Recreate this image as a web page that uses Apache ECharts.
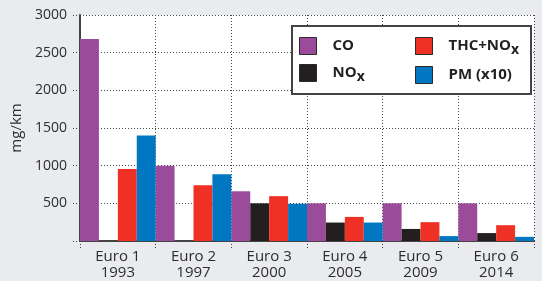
<!DOCTYPE html>
<html>
<head>
<meta charset="utf-8">
<script src="https://cdn.jsdelivr.net/npm/echarts@6/dist/echarts.min.js"></script>
<style>
  html, body { margin: 0; padding: 0; background: #e9ebee; }
  #main { width: 542px; height: 281px; }
</style>
</head>
<body>
<div id="main"></div>
<script>
// Euro emission standards, mg/km
var categories = ['Euro 1\n1993', 'Euro 2\n1997', 'Euro 3\n2000', 'Euro 4\n2005', 'Euro 5\n2009', 'Euro 6\n2014'];
var coValues = [2680, 1000, 660, 500, 500, 500];
var noxValues = [null, null, 500, 245, 160, 105];
var thcNoxValues = [955, 740, 595, 320, 250, 210];
var pmValues = [1400, 885, 495, 245, 65, 55];
var yTicks = [0, 500, 1000, 1500, 2000, 2500, 3000];

var myChart = echarts.init(document.getElementById('main'));

var font = 'Open Sans';

function legendName(name) {
    if (name === 'NOx') return '{a|NO}{s|x}';
    if (name === 'THC+NOx') return '{a|THC+NO}{s|x}';
    return '{a|' + name + '}';
}

var legendBase = {
    orient: 'vertical',
    top: 25,
    itemGap: 9,
    itemWidth: 17,
    itemHeight: 17,
    icon: 'rect',
    z: 5,
    itemStyle: { borderColor: '#2a2a2a', borderWidth: 1 },
    formatter: legendName,
    textStyle: {
        padding: [0, 0, 0, 11],
        rich: {
            a: { fontFamily: font, fontSize: 15, fontWeight: 'bold', color: '#231f20', lineHeight: 18 },
            s: { fontFamily: font, fontSize: 14, fontWeight: 'bold', color: '#231f20', padding: [8, 0, 0, 0] }
        }
    }
};

var option = {
    animation: false,
    textStyle: { fontFamily: font },
    grid: {
        left: 80,
        right: 8,
        top: 15,
        bottom: 39,
        show: true,
        backgroundColor: '#ffffff',
        borderWidth: 0
    },
    graphic: [{
        type: 'rect',
        left: 291,
        top: 25,
        z: 3,
        shape: { width: 239, height: 68 },
        style: { fill: '#ffffff', stroke: '#444444', lineWidth: 2 }
    }],
    legend: [
        Object.assign({}, legendBase, { left: 291, padding: [12, 8, 12, 8], data: ['CO', 'NOx'] }),
        Object.assign({}, legendBase, { left: 407, padding: [12, 8, 12, 8], data: ['THC+NOx', 'PM (x10)'] })
    ],
    xAxis: {
        type: 'category',
        data: categories,
        axisLine: { lineStyle: { color: '#444444', width: 2 } },
        axisTick: {
            show: true,
            interval: 0,
            length: 8,
            lineStyle: { color: '#444444', type: [1, 2] }
        },
        splitLine: {
            show: true,
            interval: 0,
            lineStyle: { color: '#444444', type: [1, 2] }
        },
        axisLabel: {
            interval: 0,
            margin: 8,
            color: '#2d2d2d',
            fontSize: 15,
            lineHeight: 16,
            fontFamily: font
        }
    },
    yAxis: {
        type: 'value',
        min: 0,
        max: 3000,
        interval: 500,
        name: 'mg/km',
        nameLocation: 'middle',
        nameGap: 48,
        nameTextStyle: { fontSize: 15, color: '#2d2d2d', fontFamily: font },
        axisLine: { show: true, lineStyle: { color: '#444444', width: 2 } },
        axisTick: { show: true, length: 8, lineStyle: { color: '#444444', type: [1, 2] } },
        splitLine: { lineStyle: { color: '#444444', type: [1, 2] } },
        axisLabel: {
            margin: 13,
            color: '#2d2d2d',
            fontSize: 14,
            fontFamily: font,
            formatter: function (v) { return yTicks.indexOf(v) > 0 ? String(v) : ''; }
        }
    },
    series: [
        {
            name: 'CO',
            type: 'bar',
            data: coValues,
            barGap: '0%',
            barCategoryGap: '0%',
            itemStyle: { color: '#9a4c9b' }
        },
        {
            name: 'NOx',
            type: 'bar',
            data: noxValues,
            barGap: '0%',
            barCategoryGap: '0%',
            itemStyle: { color: '#231f20' }
        },
        {
            name: 'THC+NOx',
            type: 'bar',
            data: thcNoxValues,
            barGap: '0%',
            barCategoryGap: '0%',
            itemStyle: { color: '#ee3124' }
        },
        {
            name: 'PM (x10)',
            type: 'bar',
            data: pmValues,
            barGap: '0%',
            barCategoryGap: '0%',
            itemStyle: { color: '#0077c0' }
        }
    ]
};

option && myChart.setOption(option);
</script>
</body>
</html>
